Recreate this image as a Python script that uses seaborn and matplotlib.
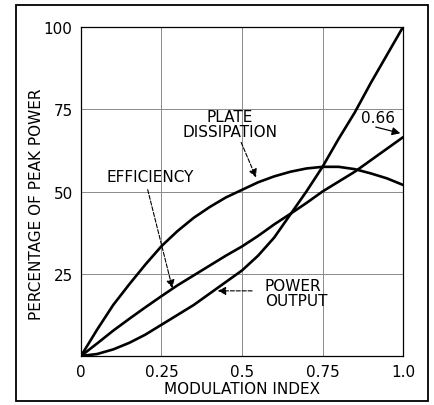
import pandas as pd
import matplotlib.pyplot as plt
import seaborn as sns
from matplotlib.patches import Rectangle

# valores (indice de modulacion vs % de potencia pico)
indice_mod = [0.0, 0.05, 0.1, 0.15, 0.2, 0.25, 0.3, 0.35, 0.4, 0.45, 0.5,
              0.55, 0.6, 0.65, 0.7, 0.75, 0.8, 0.85, 0.9, 0.95, 1.0]
potencia_salida = [0.0, 0.6, 2.0, 4.0, 6.5, 9.5, 12.5, 15.5, 19.0, 22.5, 26.0,
                   30.5, 36.0, 43.0, 50.0, 57.5, 66.0, 74.0, 83.0, 91.5, 100.0]
eficiencia = [0.0, 3.8, 7.7, 11.3, 14.8, 18.2, 21.5, 24.5, 27.5, 30.5, 33.3,
              36.5, 40.0, 43.2, 46.5, 50.0, 53.0, 56.0, 59.5, 63.0, 66.5]
disipacion = [0.0, 8.0, 15.5, 21.8, 27.8, 33.4, 38.0, 42.0, 45.3, 48.2, 50.5,
              52.8, 54.6, 56.0, 57.0, 57.5, 57.5, 56.8, 55.5, 54.0, 52.0]

x_ticks = [0, 0.25, 0.5, 0.75, 1.0]
x_labels = ["0", "0.25", "0.5", "0.75", "1.0"]
y_ticks = [25, 50, 75, 100]
y_labels = ["25", "50", "75", "100"]

df = pd.DataFrame({
    "m": indice_mod,
    "Power output": potencia_salida,
    "Efficiency": eficiencia,
    "Plate dissipation": disipacion,
})

sns.set_theme(style="white")
plt.rcParams["font.family"] = ["DejaVu Sans"]
plt.rcParams["text.color"] = "black"
plt.rcParams["axes.labelcolor"] = "black"
plt.rcParams["xtick.color"] = "black"
plt.rcParams["ytick.color"] = "black"

fig = plt.figure(figsize=(4.34, 4.06), dpi=100)
ax = fig.add_axes([0.1866, 0.1207, 0.742, 0.8103])

for col in ["Power output", "Efficiency", "Plate dissipation"]:
    sns.lineplot(data=df, x="m", y=col, ax=ax, color="black", linewidth=1.9)

ax.set_xlim(0, 1.0)
ax.set_ylim(0, 100)
ax.set_xticks(x_ticks)
ax.set_xticklabels(x_labels, fontsize=11)
ax.set_yticks(y_ticks)
ax.set_yticklabels(y_labels, fontsize=11)
ax.tick_params(length=0, pad=6)
ax.grid(True, color="#8a8a8a", linewidth=0.7)
for s in ax.spines.values():
    s.set_color("black")
    s.set_linewidth(0.9)

ax.set_xlabel("MODULATION INDEX", fontsize=11, labelpad=1)
ax.set_ylabel("PERCENTAGE OF PEAK POWER", fontsize=11)
ax.yaxis.set_label_coords(-0.115, 0.465)

# etiquetas con flechas
ax.text(0.463, 70.5, "PLATE\nDISSIPATION", fontsize=11, ha="center", va="center",
        linespacing=1.0)
ax.annotate("", xy=(0.547, 53.5), xytext=(0.494, 65.7),
            arrowprops=dict(arrowstyle="-|>", color="black", lw=0.8, ls="--",
                            mutation_scale=12))
ax.text(0.214, 54.7, "EFFICIENCY", fontsize=11, ha="center", va="center")
ax.annotate("", xy=(0.286, 19.8), xytext=(0.205, 51.4),
            arrowprops=dict(arrowstyle="-|>", color="black", lw=0.8, ls="--",
                            mutation_scale=12))
ax.text(0.571, 19.3, "POWER\nOUTPUT", fontsize=11, ha="left", va="center",
        linespacing=1.0)
ax.annotate("", xy=(0.416, 19.8), xytext=(0.54, 19.8),
            arrowprops=dict(arrowstyle="-|>", color="black", lw=0.8, ls="--",
                            mutation_scale=12))
ax.text(0.922, 72.6, "0.66", fontsize=11, ha="center", va="center")
ax.annotate("", xy=(1.0, 67.5), xytext=(0.907, 69.8),
            arrowprops=dict(arrowstyle="-|>", color="black", lw=0.9,
                            mutation_scale=12))

# marco exterior del dibujo
fig.patches.append(Rectangle((0.037, 0.01), 0.949, 0.975, transform=fig.transFigure,
                             fill=False, edgecolor="black", linewidth=1.3))

fig.savefig("out.png", dpi=100)
